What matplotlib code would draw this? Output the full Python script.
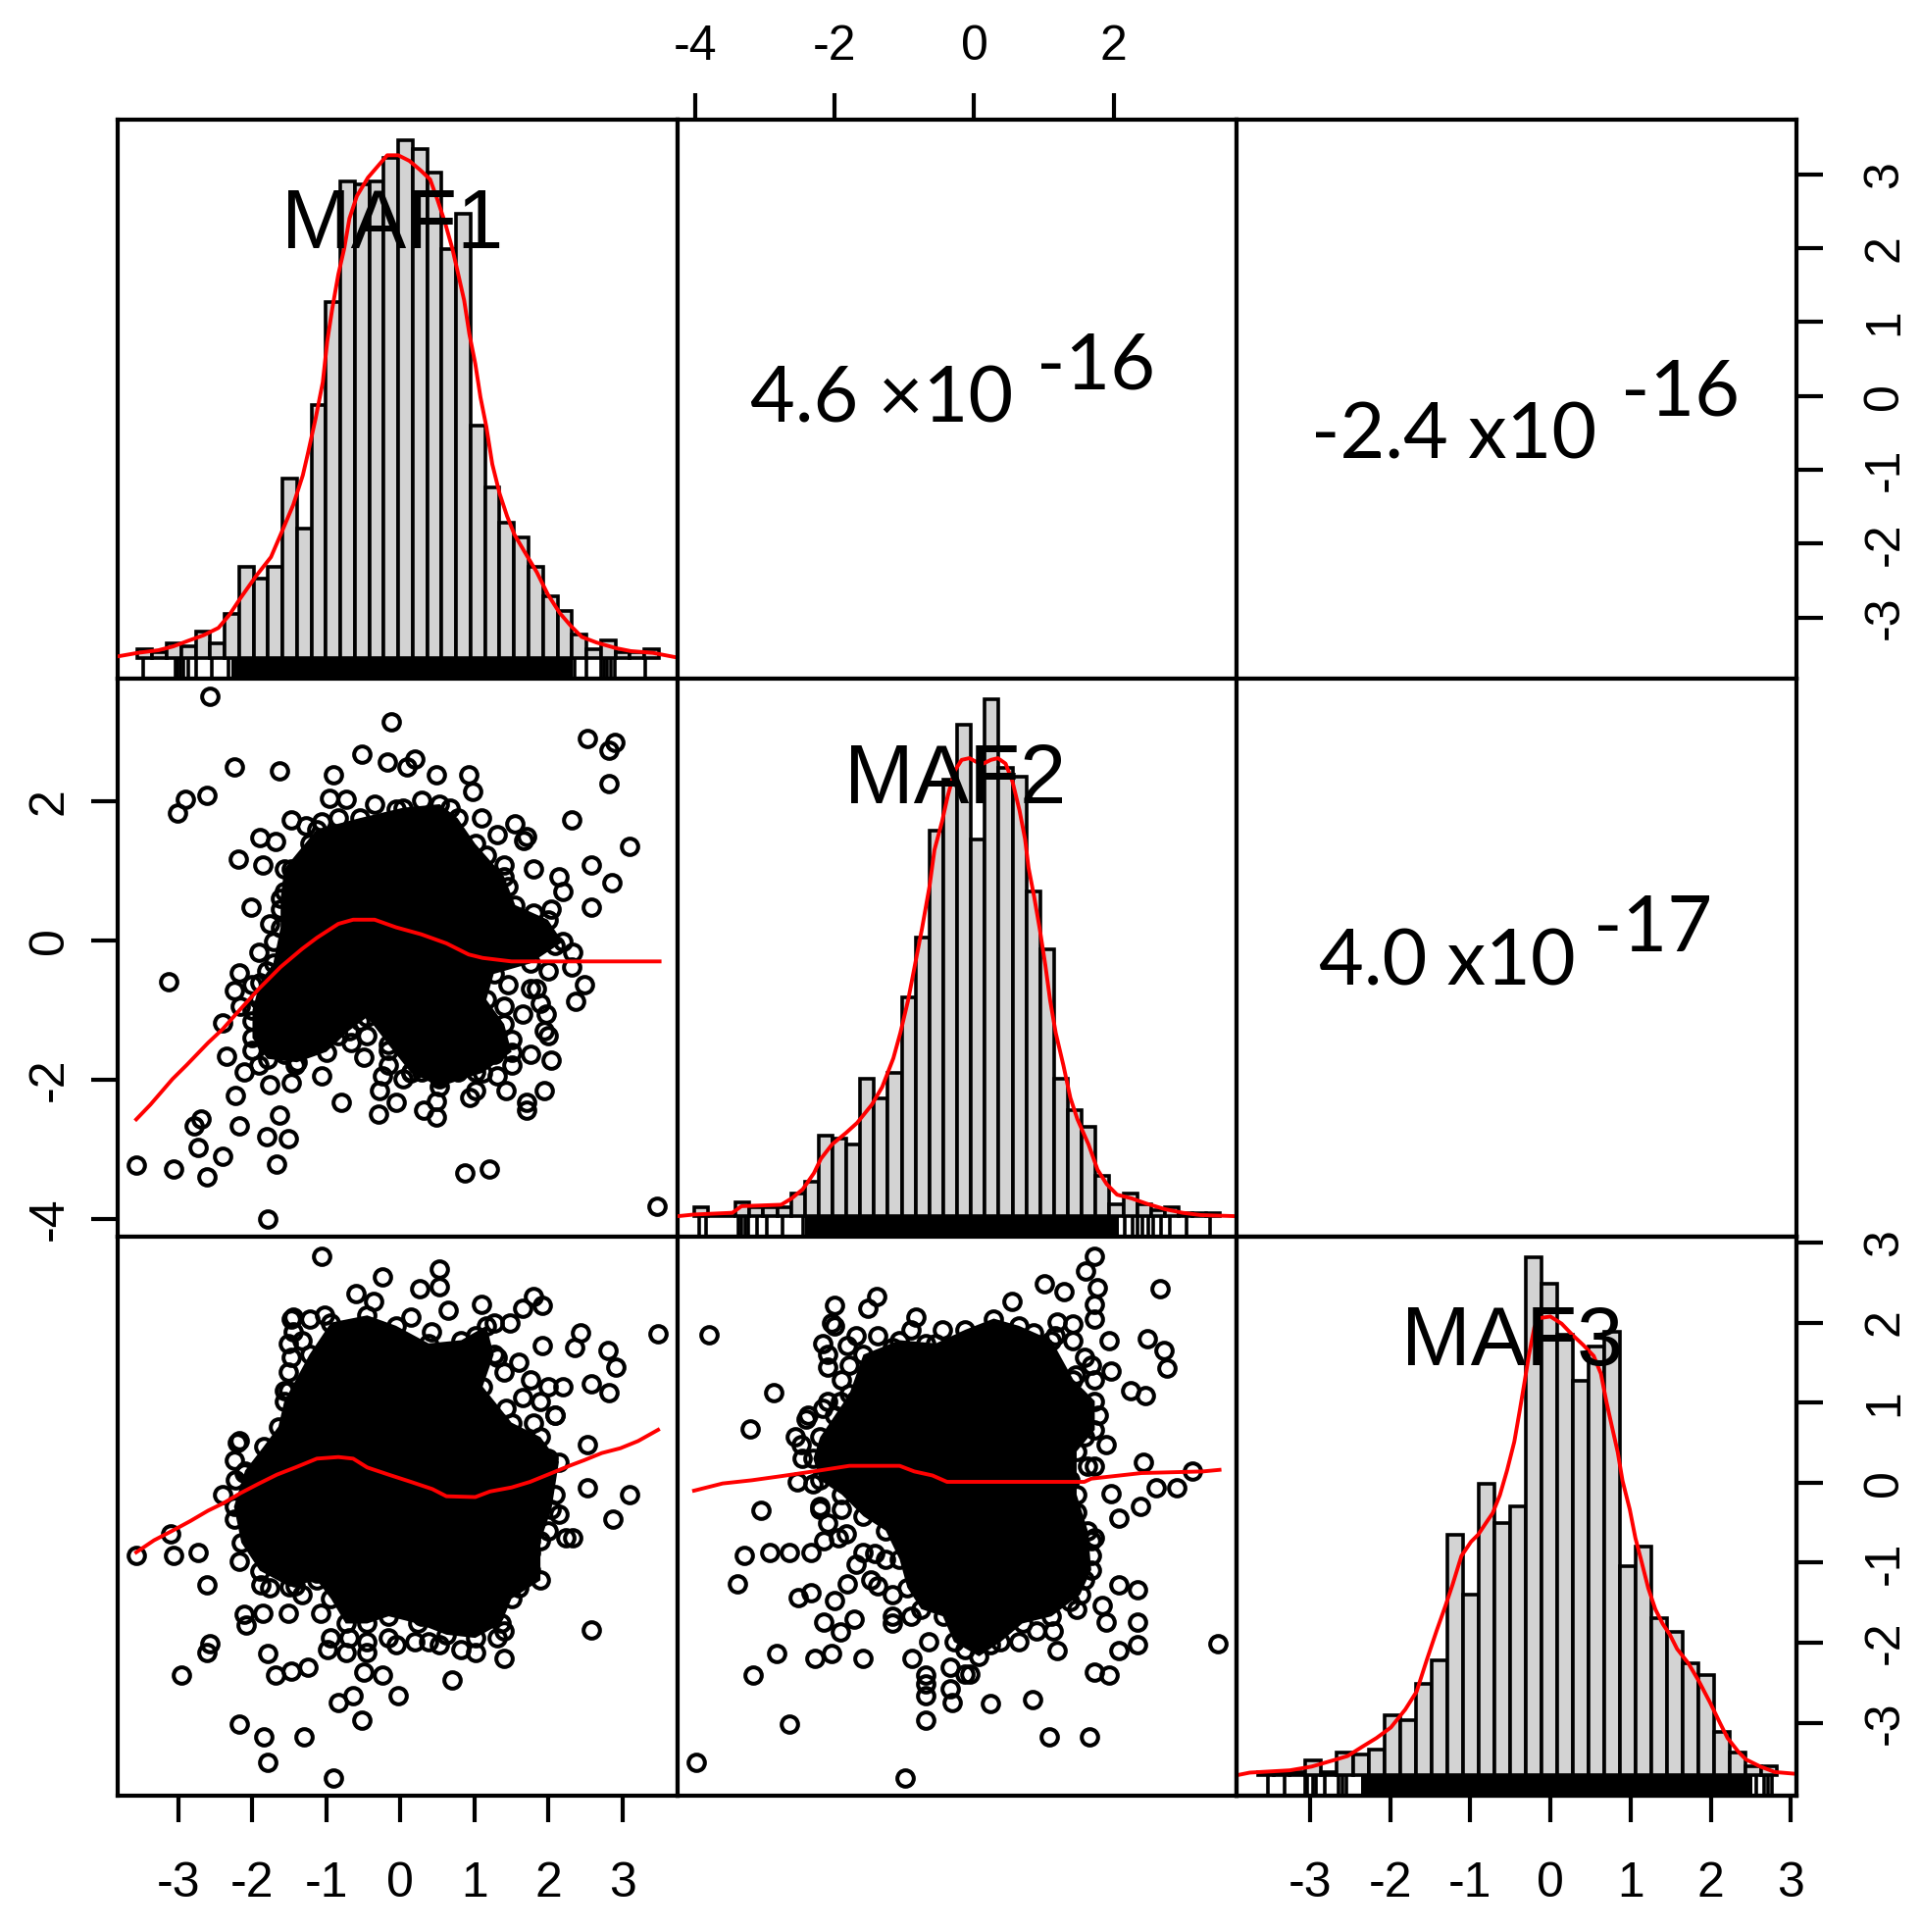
import matplotlib
matplotlib.use("Agg")
import matplotlib.pyplot as plt
import numpy as np

# axis ranges of the three factors (as in the pairs plot)
maf1_lim = (-3.82, 3.74)
maf2_lim = (-4.26, 3.77)
maf3_lim = (-3.91, 3.07)

# ---- histograms: first / last break and counts per bin
maf1_hist_lo, maf1_hist_hi = -3.55, 3.49
maf1_counts = [3, 2, 5, 4, 9, 5, 15, 31, 27, 31, 61, 44, 86, 121, 162, 161, 162, 170,
               176, 173, 165, 139, 151, 79, 58, 46, 41, 31, 21, 16, 8, 3, 6, 2, 2, 3]
maf2_hist_lo, maf2_hist_hi = -4.02, 3.53
maf2_counts = [3, 0, 0, 5, 3, 3, 3, 8, 12, 28, 27, 25, 48, 41, 50, 76, 97, 134, 152,
               171, 131, 180, 156, 153, 113, 93, 48, 37, 31, 14, 4, 8, 4, 2, 3, 1, 1, 1]
maf3_hist_lo, maf3_hist_hi = -3.64, 2.82
maf3_counts = [1, 1, 1, 5, 1, 8, 7, 9, 21, 19, 32, 40, 84, 63, 102, 88, 94, 181, 172,
               154, 138, 150, 155, 73, 80, 55, 50, 39, 35, 15, 8, 3, 3]

# ---- density curves (same units as counts)
maf1_dens_x = [-3.82, -3.55, -3.27, -3.07, -2.87, -2.66, -2.46, -2.31, -2.16, -1.95, -1.75,
               -1.60, -1.45, -1.32, -1.25, -1.15, -1.05, -0.99, -0.92, -0.84, -0.76, -0.69,
               -0.59, -0.44, -0.31, -0.18, -0.03, 0.12, 0.27, 0.40, 0.50, 0.60, 0.70, 0.78,
               0.86, 0.93, 1.01, 1.08, 1.16, 1.24, 1.34, 1.44, 1.54, 1.69, 1.84, 1.99, 2.15,
               2.30, 2.45, 2.65, 2.91, 3.11, 3.41, 3.74]
maf1_dens_y = [0.4, 1.6, 2.5, 3.8, 5.7, 7.6, 10.1, 14.6, 20.3, 27.8, 34.2, 43.0, 51.9, 62.0,
               69.6, 81.0, 93.7, 107.6, 119.0, 130.4, 139.2, 149.4, 157.0, 163.3, 167.1,
               170.9, 170.9, 169.0, 165.8, 162.7, 155.7, 148.1, 139.2, 130.4, 121.5, 110.1,
               100.0, 88.6, 78.5, 65.8, 55.7, 48.1, 41.8, 35.4, 29.1, 21.5, 15.2, 10.8, 7.0,
               5.1, 3.2, 2.2, 1.6, 0.0]
maf2_dens_x = [-4.26, -4.02, -3.47, -3.34, -2.77, -2.62, -2.46, -2.30, -2.20, -2.04, -1.84,
               -1.68, -1.47, -1.32, -1.16, -1.06, -0.95, -0.85, -0.75, -0.64, -0.57, -0.46,
               -0.38, -0.28, -0.18, -0.07, 0.03, 0.13, 0.24, 0.34, 0.45, 0.55, 0.65, 0.73,
               0.78, 0.86, 0.94, 1.02, 1.09, 1.17, 1.28, 1.38, 1.48, 1.64, 1.77, 1.90, 2.05,
               2.26, 2.47, 2.73, 2.99, 3.25, 3.78]
maf2_dens_y = [0.0, 0.6, 1.2, 3.5, 4.0, 6.2, 9.4, 15.0, 20.0, 25.0, 29.0, 32.5, 38.8, 45.0,
               55.0, 63.8, 75.0, 87.5, 100.0, 115.0, 127.5, 137.5, 146.2, 155.0, 158.8,
               159.4, 158.1, 157.5, 158.8, 159.4, 157.5, 151.2, 141.2, 131.2, 121.2, 111.2,
               100.0, 87.5, 75.0, 63.8, 52.5, 41.2, 33.8, 25.0, 16.2, 11.2, 7.5, 6.2, 4.4,
               2.5, 1.2, 0.4, 0.0]
maf3_dens_x = [-3.89, -3.75, -3.25, -2.98, -2.71, -2.53, -2.35, -2.17, -1.99, -1.81, -1.67,
               -1.54, -1.42, -1.31, -1.22, -1.11, -0.99, -0.90, -0.81, -0.72, -0.63, -0.54,
               -0.45, -0.38, -0.32, -0.27, -0.20, -0.14, 0.00, 0.14, 0.27, 0.41, 0.54, 0.63,
               0.70, 0.77, 0.84, 0.90, 0.99, 1.06, 1.13, 1.22, 1.31, 1.40, 1.49, 1.58, 1.72,
               1.85, 1.99, 2.12, 2.21, 2.35, 2.44, 2.62, 2.80, 3.05]
maf3_dens_y = [0.0, 0.8, 1.6, 2.9, 5.1, 6.6, 9.8, 12.9, 16.6, 22.9, 29.1, 40.4, 50.4, 59.1,
               66.6, 76.6, 81.6, 84.1, 87.9, 91.6, 97.9, 106.6, 116.6, 127.9, 137.9, 146.6,
               156.6, 159.8, 160.4, 157.9, 154.1, 150.4, 146.6, 140.4, 130.4, 121.6, 112.9,
               102.9, 92.9, 82.9, 75.4, 65.4, 57.9, 52.9, 49.1, 44.1, 39.1, 32.9, 25.4, 17.9,
               12.9, 7.9, 5.4, 2.9, 1.0, 0.4]

# ---- rugs: single ticks in the tails, solid run in the middle
maf1_rug = [-3.48, -3.04, -3.01, -2.97, -2.93, -2.87, -2.76, -2.55, -2.33,
            2.35, 2.51, 2.71, 2.75, 2.79, 2.84, 2.90, 3.30]
maf1_rug_core = (-2.28, 2.32)
maf2_rug = [-3.94, -3.85, -3.39, -3.34, -3.29, -3.24, -3.11, -2.98, -2.75, -2.46,
            2.16, 2.27, 2.34, 2.42, 2.50, 2.57, 2.68, 2.81, 3.04, 3.38]
maf2_rug_core = (-2.43, 2.07)
maf3_rug = [-3.52, -3.31, -3.06, -3.03, -2.96, -2.93, -2.81, -2.64, -2.60, -2.55,
            2.57, 2.67, 2.71, 2.76]
maf3_rug_core = (-2.36, 2.52)

# ---- scatter panels: individual circles and the saturated centre of each cloud
pts_21 = [(-2.57, 3.51), (-0.13, 3.15), (2.53, 2.91), (2.89, 2.85), (2.82, 2.74), (-0.52, 2.68),
          (-0.18, 2.56), (0.19, 2.61), (0.09, 2.49), (-2.24, 2.49), (-1.63, 2.44), (-0.91, 2.38),
          (0.48, 2.38), (0.92, 2.38), (2.81, 2.26), (-2.62, 2.08), (-2.91, 2.03), (-3.01, 1.84),
          (-0.96, 2.04), (-0.74, 2.03), (0.97, 2.15), (2.31, 1.73), (3.09, 1.36), (1.54, 1.68),
          (1.67, 1.44), (-1.90, 1.48), (-1.69, 1.43), (-2.19, 1.17), (-1.86, 1.08), (-1.47, 1.03),
          (2.58, 1.08), (2.86, 0.83), (1.80, 1.03), (2.58, 0.48), (-2.02, 0.48), (-3.13, -0.59),
          (-1.91, -0.17), (-2.18, -0.46), (-2.25, -0.72), (2.48, -0.64), (2.37, -0.88), (2.31, -0.38),
          (-2.40, -1.19), (-2.35, -1.66), (-2.23, -2.23), (-2.69, -2.56), (-2.79, -2.67), (-2.74, -2.97),
          (-2.40, -3.10), (-2.18, -2.67), (-1.81, -2.82), (-1.52, -2.85), (-1.63, -2.51), (-1.68, -3.22),
          (-3.57, -3.23), (-3.07, -3.28), (-2.62, -3.40), (-1.79, -4.00), (0.87, -3.34), (1.20, -3.29),
          (3.47, -3.82), (-0.80, -2.33), (-1.06, -1.94), (-0.30, -2.49), (-0.06, -2.33), (-0.28, -2.15),
          (0.31, -2.44), (0.48, -2.54), (1.70, -2.44), (1.94, -2.15), (1.43, -2.15), (2.04, -1.72),
          (-1.47, -2.05), (-1.77, -2.07), (-0.50, -1.68), (-1.13, -1.47), (-0.67, -1.47), (1.97, -1.06),
          (1.75, -0.69), (1.94, -1.29), (0.48, -2.31), (0.94, -2.26), (1.01, -2.15), (0.04, -1.99),
          (1.70, -2.33), (-1.47, 1.73), (-1.28, 1.65), (-1.06, 1.70), (-1.23, 1.39), (-1.23, 1.18),
          (-1.42, 0.87), (-1.57, 0.71), (-0.84, 1.76), (-0.35, 1.96), (-0.06, 1.89), (0.28, 2.02),
          (0.67, 1.91), (1.09, 1.76), (1.31, 1.52), (1.70, 1.49), (1.16, 1.23), (1.40, 1.08),
          (1.45, 0.77), (2.14, 0.92), (2.19, 0.71), (2.04, 0.45), (1.80, 0.40), (2.33, -0.17),
          (2.09, -0.07), (1.99, -0.43), (1.84, -0.69), (1.89, -0.90), (1.65, -1.06), (1.99, -1.37),
          (1.50, -1.42), (1.75, -1.63), (1.50, -1.79), (1.31, -1.94), (1.26, -1.63), (1.40, -0.95),
          (1.45, -0.64), (1.01, -1.89), (0.77, -1.89), (0.53, -1.99), (0.28, -1.89), (-0.16, -1.79),
          (-0.16, -1.58), (-0.45, -1.37), (-0.55, -1.16), (-0.84, -1.37), (-1.03, -1.16), (-1.33, -1.37),
          (-1.57, -1.63), (-1.81, -1.37), (-2.01, -1.16), (-2.01, -1.58), (-1.91, -1.79), (-2.11, -1.89),
          (-1.42, -1.79), (-1.23, -1.16), (-1.67, -0.95), (-1.91, -0.85), (-2.16, -0.95), (-2.01, -0.64),
          (-1.81, -0.43), (-1.72, -0.02), (-1.77, 0.24), (-1.62, 0.45), (-0.25, -1.94), (0.14, -1.89),
          (-0.74, -0.95)]
core_21 = [(-1.62, 0.61), (-1.57, 1.03), (-1.13, 1.60), (-0.55, 1.76), (0.04, 1.91), (0.53, 1.96),
           (0.77, 1.76), (1.01, 1.39), (1.40, 0.92), (1.55, 0.51), (1.99, 0.30), (2.19, -0.02),
           (1.75, -0.33), (1.26, -0.48), (1.16, -0.85), (1.40, -1.20), (1.50, -1.60), (1.11, -1.90),
           (0.53, -2.10), (0.14, -1.90), (-0.16, -1.50), (-0.45, -1.10), (-0.70, -1.30),
           (-1.00, -1.60), (-1.40, -1.75), (-1.80, -1.70), (-2.00, -1.40), (-2.00, -1.00),
           (-1.90, -0.60), (-1.72, -0.33), (-1.62, 0.19)]
loess_21_x = [-3.57, -3.38, -3.08, -2.89, -2.60, -2.40, -2.20, -1.91, -1.62, -1.33, -1.13,
              -0.84, -0.64, -0.35, -0.06, 0.28, 0.62, 0.92, 1.11, 1.50, 1.99, 3.50]
loess_21_y = [-2.57, -2.36, -1.99, -1.79, -1.47, -1.27, -1.03, -0.69, -0.38, -0.12, 0.04,
              0.24, 0.30, 0.30, 0.19, 0.09, -0.04, -0.20, -0.25, -0.30, -0.30, -0.30]

pts_31 = [(-1.07, 2.83), (0.53, 2.67), (-0.24, 2.57), (0.53, 2.45), (0.26, 2.42), (-0.60, 2.36),
          (-0.36, 2.27), (1.09, 2.23), (0.65, 2.16), (1.80, 2.32), (1.92, 2.21), (1.65, 2.18),
          (1.48, 2.00), (3.48, 1.86), (2.43, 1.87), (2.35, 1.69), (2.80, 1.65), (2.91, 1.44),
          (1.92, 1.71), (2.58, 1.24), (2.82, 1.13), (-1.45, 2.07), (-1.03, 2.09), (-1.45, 1.89),
          (0.14, 2.07), (0.42, 1.88), (-1.52, 1.15), (1.43, 0.93), (2.09, 0.84), (2.53, 0.47),
          (-2.18, 0.52), (-2.25, 0.28), (-1.74, 0.28), (-2.40, -0.15), (-2.23, 0.03), (2.53, -0.06),
          (3.09, -0.15), (2.87, -0.45), (1.75, -0.35), (2.14, -0.39), (2.33, -0.69), (2.09, -0.15),
          (-3.11, -0.64), (-3.57, -0.91), (-3.07, -0.91), (-2.74, -0.87), (-2.18, -0.98), (-2.62, -1.28),
          (-1.89, -1.28), (-1.42, -1.29), (-2.11, -1.65), (-1.86, -1.63), (-1.52, -1.63), (-1.08, -1.63),
          (-2.08, -1.78), (-2.57, -2.01), (-2.62, -2.12), (-2.96, -2.40), (-1.79, -2.14), (-1.69, -2.40),
          (-1.47, -2.35), (-1.25, -2.30), (-0.99, -2.08), (2.58, -1.84), (1.40, -2.20), (0.70, -2.46),
          (-0.25, -2.41), (-0.50, -2.37), (-0.03, -2.66), (-0.84, -2.75), (-0.64, -2.66), (-0.52, -2.97),
          (-2.18, -3.02), (-1.85, -3.17), (-1.30, -3.17), (-1.79, -3.49), (-0.91, -3.69), (0.82, -2.08),
          (0.38, -1.99), (1.31, -1.94), (-0.06, -2.03), (0.28, -1.67), (1.75, -0.87), (2.23, -0.69),
          (-1.52, -1.00), (-1.28, -0.51), (-1.91, -0.55), (-2.20, 0.50), (-2.11, 0.12), (-2.25, -0.46),
          (-1.81, -0.73), (-1.52, -0.73), (-1.57, -0.37), (-1.91, -0.24), (-1.69, -0.06), (-1.42, -0.01),
          (-1.33, -0.19), (-1.13, -0.42), (-0.99, -0.64), (-1.57, -0.96), (-1.42, -1.18), (-1.13, -1.13),
          (-1.77, -1.31), (-1.33, -1.40), (-1.47, 2.05), (-1.52, 1.74), (-1.47, 1.56), (-1.52, 1.38),
          (-1.23, 2.05), (-1.33, 1.78), (-1.57, 1.15), (1.26, 2.00), (1.01, 1.83), (1.31, 1.56),
          (1.40, 1.38), (1.60, 1.51), (1.75, 1.29), (1.99, 1.20), (2.19, 1.20), (1.65, 1.06),
          (1.89, 1.02), (2.09, 0.84), (1.80, 0.75), (1.21, 0.75), (1.40, 0.57), (1.75, 0.39),
          (1.99, 0.30), (1.50, 0.30), (1.50, -0.37), (1.65, -0.51), (1.99, -0.60), (1.75, -0.73),
          (1.50, -0.96), (1.75, -1.09), (1.31, -1.31), (1.60, -1.31), (1.26, -1.63), (1.40, -1.85),
          (0.92, -1.76), (1.01, -2.12), (0.53, -2.03), (0.19, -1.99), (-0.16, -1.94), (-0.45, -1.99),
          (-0.69, -1.94), (-0.94, -1.94), (-0.74, -2.12), (-0.45, -2.12)]
core_31 = [(-1.57, 1.02), (-1.23, 1.60), (-0.94, 2.00), (-0.45, 2.09), (-0.06, 1.96), (0.38, 1.74),
           (0.82, 1.78), (1.16, 1.96), (1.26, 1.60), (1.11, 1.20), (1.50, 0.75), (1.89, 0.57),
           (2.14, 0.26), (2.04, -0.33), (1.89, -0.73), (1.89, -1.22), (1.50, -1.45), (1.36, -1.76),
           (1.01, -1.94), (0.62, -1.90), (0.23, -1.76), (-0.16, -1.67), (-0.45, -1.76), (-0.74, -1.76),
           (-0.94, -1.45), (-1.13, -1.22), (-1.50, -1.30), (-1.90, -1.10), (-2.15, -0.75),
           (-2.25, -0.30), (-2.10, 0.15), (-1.85, 0.45), (-1.65, 0.70)]
loess_31_x = [-3.57, -3.33, -3.08, -2.84, -2.60, -2.40, -2.16, -1.91, -1.67, -1.42, -1.13, -0.84,
              -0.64, -0.45, -0.16, 0.14, 0.43, 0.62, 1.01, 1.21, 1.50, 1.75, 1.99, 2.28, 2.48,
              2.72, 2.97, 3.21, 3.48]
loess_31_y = [-0.87, -0.72, -0.60, -0.48, -0.35, -0.26, -0.13, -0.01, 0.10, 0.19, 0.30, 0.32,
              0.30, 0.19, 0.10, 0.01, -0.08, -0.17, -0.18, -0.11, -0.06, 0.01, 0.10, 0.21, 0.28,
              0.37, 0.43, 0.52, 0.66]

pts_32 = [(1.72, 2.83), (1.60, 2.65), (1.01, 2.48), (1.29, 2.39), (1.76, 2.43), (2.66, 2.42),
          (1.73, 2.23), (1.73, 2.05), (1.19, 2.01), (1.42, 1.98), (0.54, 2.27), (-1.40, 2.32),
          (-2.00, 2.21), (-2.05, 2.00), (-0.83, 2.07), (-0.46, 1.91), (-0.91, 1.91), (-3.81, 1.85),
          (-2.17, 1.74), (-1.82, 1.71), (-2.10, 1.44), (-2.88, 1.13), (-3.22, 0.67), (1.94, 1.78),
          (1.96, 1.39), (2.48, 1.80), (2.72, 1.65), (2.77, 1.43), (2.25, 1.15), (2.46, 1.09),
          (1.68, 1.47), (1.45, 1.34), (1.89, 0.48), (2.43, 0.26), (1.73, 0.21), (3.13, 0.14),
          (2.61, -0.06), (2.90, -0.06), (1.96, -0.14), (2.38, -0.30), (2.07, -0.44), (1.73, -0.69),
          (-1.92, 1.02), (-1.69, 1.04), (-2.39, 0.84), (-2.18, 0.93), (-1.82, 0.84), (-2.49, 0.48),
          (-2.54, 0.01), (-3.06, -0.35), (-2.21, -0.30), (-3.30, -0.91), (-2.93, -0.87), (-2.65, -0.87),
          (-2.34, -0.87), (-2.16, -0.73), (-1.84, -0.64), (-3.40, -1.27), (-2.52, -1.43), (-2.34, -1.38),
          (-2.00, -1.47), (-2.16, -1.74), (-1.72, -1.70), (-1.92, -1.87), (-1.69, -1.02), (-1.43, -0.89),
          (-1.82, -1.27), (-1.38, -1.29), (-2.83, -2.14), (-2.29, -2.20), (-2.05, -2.14), (-1.59, -2.20),
          (-3.17, -2.40), (-0.89, -2.19), (-0.70, -2.41), (-0.70, -2.66), (-0.70, -2.97), (-0.34, -2.30),
          (-0.32, -2.75), (0.23, -2.76), (0.84, -2.71), (-0.06, -2.39), (1.19, -2.10), (1.73, -2.37),
          (1.94, -2.41), (2.07, -2.10), (2.35, -2.03), (3.49, -2.01), (1.89, -1.74), (2.35, -1.74),
          (1.84, -1.54), (1.47, -1.58), (2.07, -1.28), (2.35, -1.34), (1.13, -1.85), (-2.65, -3.02),
          (1.08, -3.17), (1.65, -3.17), (-3.99, -3.49), (-0.99, -3.69), (-1.17, -1.76), (-2.00, 1.96),
          (-1.69, 1.83), (-1.53, 2.18), (-1.38, 1.83), (-1.17, 1.69), (-0.70, 1.74), (0.85, 1.87),
          (1.16, 1.83), (1.42, 1.78), (1.58, 1.56), (1.73, 1.29), (1.47, 1.06), (1.78, 0.84),
          (1.58, 0.57), (1.63, 0.21), (1.37, 0.03), (1.47, -0.37), (1.68, -0.73), (1.68, -0.91),
          (1.58, -1.22), (1.37, -1.49), (0.90, -1.85), (0.64, -1.99), (0.23, -2.03), (-0.13, -2.08),
          (-0.13, -2.39), (-0.34, -2.57), (-0.70, -2.52), (-0.65, -1.99), (-0.91, -1.67), (-1.17, -1.67),
          (-1.17, -1.40), (-1.48, -1.22), (-1.27, -0.96), (-1.59, -0.87), (-1.95, -0.69), (-2.10, -0.51),
          (-2.21, -0.33), (-1.90, -0.33), (-2.31, -0.01), (-2.47, 0.30), (-2.57, 0.57), (-2.41, 0.79),
          (-2.10, 1.02), (-1.90, 1.29), (-2.10, 1.60), (-1.79, 1.47), (-1.48, 1.11)]
core_32 = [(-1.79, 1.11), (-1.59, 1.60), (-1.07, 1.78), (-0.55, 1.74), (-0.13, 1.91), (0.28, 2.05),
           (0.64, 1.96), (1.11, 1.78), (1.42, 1.29), (1.73, 1.02), (1.73, 0.66), (1.47, 0.39),
           (1.47, -0.15), (1.63, -0.60), (1.68, -1.09), (1.52, -1.40), (1.11, -1.67), (0.69, -1.76),
           (0.38, -1.99), (0.07, -2.17), (-0.29, -1.99), (-0.45, -1.67), (-0.76, -1.58), (-0.96, -1.31),
           (-1.07, -0.96), (-1.27, -0.60), (-1.59, -0.42), (-1.90, -0.15), (-2.21, 0.03), (-2.31, 0.30),
           (-2.21, 0.57), (-2.00, 0.84)]
loess_32_x = [-4.02, -3.61, -3.19, -2.78, -2.31, -1.79, -1.07, -0.86, -0.60, -0.39, 1.58, 1.68,
              2.40, 3.28, 3.52]
loess_32_y = [-0.10, -0.01, 0.03, 0.08, 0.14, 0.21, 0.21, 0.14, 0.09, 0.01, 0.01, 0.05, 0.12,
              0.14, 0.16]

names = ["MAF1", "MAF2", "MAF3"]
cor_text = [("4.6 \u00d710", "-16"), ("-2.4 x10", "-16"), ("4.0 x10", "-17")]

plt.rcParams["font.family"] = ["Liberation Sans", "DejaVu Sans"]
plt.rcParams["axes.unicode_minus"] = False

LW = 3.0
TICK_FS = 36


def draw_hist(ax, lo, hi, counts, dx, dy, rug, core, lim):
    edges = np.linspace(lo, hi, len(counts) + 1)
    ax.bar(edges[:-1], counts, width=edges[1] - edges[0], align="edge",
           color="#d3d3d3", edgecolor="black", linewidth=2.6, zorder=2)
    ax.plot(dx, dy, color="red", lw=2.8, zorder=3)
    trans = ax.get_xaxis_transform()
    ax.vlines(rug, 0, 0.036, transform=trans, color="black", lw=2.6, zorder=2)
    ax.axvspan(core[0], core[1], ymin=0, ymax=0.036, color="black", lw=0, zorder=2)
    m = max(counts)
    ax.set_xlim(lim)
    ax.set_ylim(-0.04 * m, 1.04 * m)


def draw_scatter(ax, pts, core, lx, ly, xlim, ylim):
    cx, cy = np.array(core).T
    ax.fill(cx, cy, color="black", lw=0, zorder=1)
    # open circles also sit on the rim of the saturated centre
    ax.plot(cx, cy, "o", mfc="none", mec="black", ms=12, mew=2.9, ls="none", zorder=2)
    px, py = np.array(pts).T
    ax.plot(px, py, "o", mfc="none", mec="black", ms=12, mew=2.9, ls="none", zorder=2)
    ax.plot(lx, ly, color="red", lw=2.8, zorder=3)
    ax.set_xlim(xlim)
    ax.set_ylim(ylim)


fig = plt.figure(figsize=(19.59, 19.70), dpi=100)
gs = fig.add_gridspec(3, 3, left=0.0613, right=0.9352, bottom=0.0706, top=0.9381,
                      wspace=0, hspace=0)
axs = [[fig.add_subplot(gs[r, c]) for c in range(3)] for r in range(3)]

for row in axs:
    for ax in row:
        for sp in ax.spines.values():
            sp.set_linewidth(LW)
        ax.tick_params(which="both", bottom=False, top=False, left=False, right=False,
                       labelbottom=False, labelleft=False)

# diagonal
draw_hist(axs[0][0], maf1_hist_lo, maf1_hist_hi, maf1_counts, maf1_dens_x, maf1_dens_y,
          maf1_rug, maf1_rug_core, maf1_lim)
draw_hist(axs[1][1], maf2_hist_lo, maf2_hist_hi, maf2_counts, maf2_dens_x, maf2_dens_y,
          maf2_rug, maf2_rug_core, maf2_lim)
draw_hist(axs[2][2], maf3_hist_lo, maf3_hist_hi, maf3_counts, maf3_dens_x, maf3_dens_y,
          maf3_rug, maf3_rug_core, maf3_lim)
label_pos = [(0.49, 0.77), (0.497, 0.776), (0.492, 0.77)]
for i in range(3):
    axs[i][i].text(label_pos[i][0], label_pos[i][1], names[i], transform=axs[i][i].transAxes,
                   ha="center", va="baseline", fontsize=61, zorder=5)

# lower triangle
draw_scatter(axs[1][0], pts_21, core_21, loess_21_x, loess_21_y, maf1_lim, maf2_lim)
draw_scatter(axs[2][0], pts_31, core_31, loess_31_x, loess_31_y, maf1_lim, maf3_lim)
draw_scatter(axs[2][1], pts_32, core_32, loess_32_x, loess_32_y, maf2_lim, maf3_lim)

# upper triangle: correlations
axs[0][1].set_xlim(maf2_lim)
axs[0][2].set_ylim(maf1_lim)
cor_axes = [axs[0][1], axs[0][2], axs[1][2]]
cor_pos = [((0.13, 0.459), (0.642, 0.518)),
           ((0.133, 0.394), (0.686, 0.471)),
           ((0.146, 0.451), (0.638, 0.511))]
for ax, (main, sup), (p_main, p_sup) in zip(cor_axes, cor_text, cor_pos):
    ax.text(p_main[0], p_main[1], main, transform=ax.transAxes, ha="left", va="baseline",
            fontsize=57, family=["Lato", "DejaVu Sans"])
    ax.text(p_sup[0], p_sup[1], sup, transform=ax.transAxes, ha="left", va="baseline",
            fontsize=57, family=["Lato", "DejaVu Sans"])

# outer axes (alternating sides like R pairs)
tick_kw = dict(length=19.4, width=LW, labelsize=TICK_FS, direction="out")

tw = axs[2][2].twinx()
tw.set_ylim(maf3_lim)
tw.set_yticks([-3, -2, -1, 0, 1, 2, 3])
tw.tick_params(axis="y", left=False, right=True, labelright=True, pad=29, labelrotation=90,
               **tick_kw)
for sp in tw.spines.values():
    sp.set_linewidth(LW)
for lab in tw.get_yticklabels():
    lab.set_va("center")
axs[2][2].tick_params(axis="y", left=False, right=False, labelleft=False)

ax = axs[2][0]
ax.set_xticks([-3, -2, -1, 0, 1, 2, 3])
ax.tick_params(axis="x", bottom=True, labelbottom=True, pad=29, **tick_kw)

ax = axs[2][2]
ax.set_xticks([-3, -2, -1, 0, 1, 2, 3])
ax.tick_params(axis="x", bottom=True, labelbottom=True, pad=29, **tick_kw)

ax = axs[0][1]
ax.set_xticks([-4, -2, 0, 2])
ax.tick_params(axis="x", top=True, labeltop=True, pad=17, **tick_kw)

ax = axs[1][0]
ax.set_yticks([-4, -2, 0, 2])
ax.tick_params(axis="y", left=True, labelleft=True, pad=14, labelrotation=90, **tick_kw)
for lab in ax.get_yticklabels():
    lab.set_va("center")

ax = axs[0][2]
ax.set_yticks([-3, -2, -1, 0, 1, 2, 3])
ax.tick_params(axis="y", right=True, labelright=True, pad=29, labelrotation=90, **tick_kw)
for lab in ax.get_yticklabels():
    lab.set_va("center")

fig.savefig("out.png", dpi=100)
